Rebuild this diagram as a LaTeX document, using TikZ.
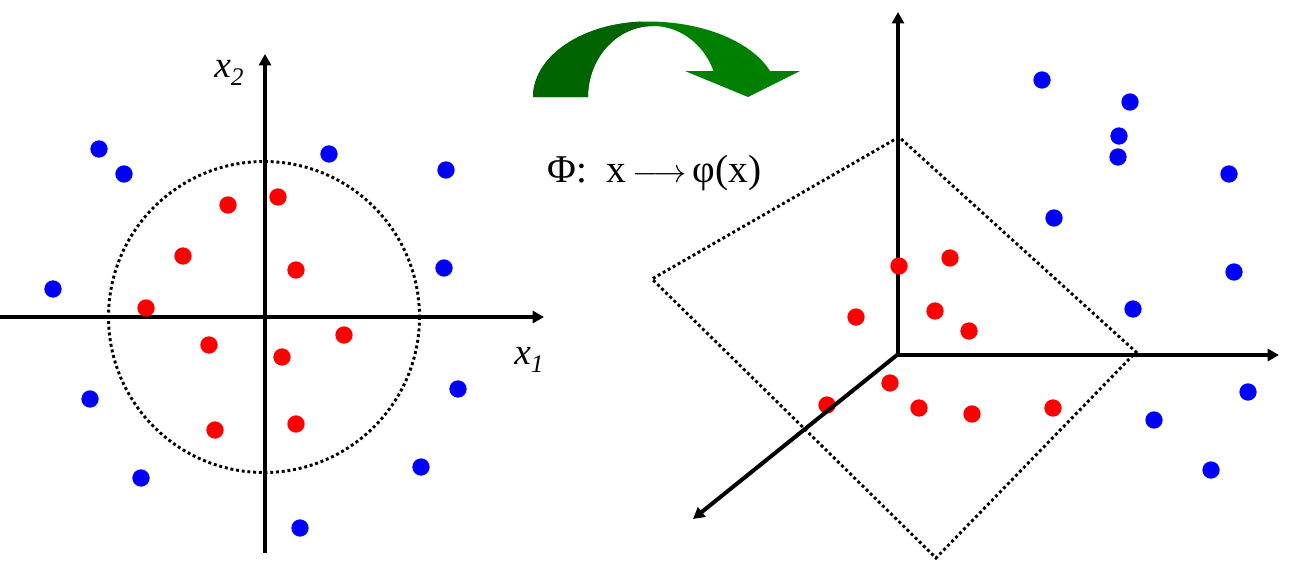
\documentclass[tikz,border=0pt]{standalone}
\usepackage{fontspec}
\setmainfont{Liberation Serif}
\usetikzlibrary{arrows.meta}
\definecolor{gdark}{RGB}{0,100,0}
\definecolor{glight}{RGB}{0,128,0}
\tikzset{
  pt/.style={circle,inner sep=0pt,minimum size=13pt},
  rdot/.style={pt,fill={rgb,255:red,255;green,0;blue,0}},
  bdot/.style={pt,fill={rgb,255:red,0;green,0;blue,255}},
  axisline/.style={line width=3pt,-{Triangle[length=8.5pt,width=9pt]}},
  dotline/.style={line width=2.2pt,dash pattern=on 2.2pt off 2.1pt},
  lbl/.style={inner sep=0pt,anchor=base west,font=\fontsize{28}{30}\selectfont}
}
\begin{document}
\begin{tikzpicture}[x=0.75pt,y=-0.75pt]
\useasboundingbox (0,0) rectangle (1291,561);
% ---------- left panel ----------
\coordinate (lw) at (0,317);
\coordinate (le) at (544,317);
\coordinate (ls) at (265,553);
\coordinate (ln) at (265,54);
\coordinate (lc) at (264,317);
\draw[dotline] (lc) circle[radius=155.5];
\draw[axisline] (lw) -- (le);
\draw[axisline] (ls) -- (ln);
\node[lbl] (x2) at (214,77) {\itshape x\raisebox{-8\dimexpr 0.75pt\relax}{\fontsize{19}{20}\selectfont\itshape 2}};
\node[lbl] (x1) at (514,364) {\itshape x\raisebox{-8\dimexpr 0.75pt\relax}{\fontsize{19}{20}\selectfont\itshape 1}};
% blue
\node[bdot] (lb1) at (99,149) {};
\node[bdot] (lb2) at (124,174) {};
\node[bdot] (lb3) at (329,154) {};
\node[bdot] (lb4) at (446,170) {};
\node[bdot] (lb5) at (53,289) {};
\node[bdot] (lb6) at (444,268) {};
\node[bdot] (lb7) at (90,399) {};
\node[bdot] (lb8) at (458,389) {};
\node[bdot] (lb9) at (141,478) {};
\node[bdot] (lb10) at (421,467) {};
\node[bdot] (lb11) at (300,528) {};
% red
\node[rdot] (lr1) at (228,205) {};
\node[rdot] (lr2) at (278,197) {};
\node[rdot] (lr3) at (183,256) {};
\node[rdot] (lr4) at (296,270) {};
\node[rdot] (lr5) at (146,308) {};
\node[rdot] (lr6) at (209,345) {};
\node[rdot] (lr7) at (344,335) {};
\node[rdot] (lr8) at (282,357) {};
\node[rdot] (lr9) at (215,430) {};
\node[rdot] (lr10) at (296,424) {};
% ---------- green arrow ----------
\fill[glight] (533,97)
  -- plot[domain=180:90,samples=40] ({648+115*cos(\x)},{97-75.5*sin(\x)})
  -- plot[domain=90:20.1,samples=40] ({648+130*cos(\x)},{97-75.5*sin(\x)})
  -- (800,71) -- (748,97) -- (685,71) -- (714,71)
  -- plot[domain=21.5:180,samples=60] ({653+65*cos(\x)},{97-71*sin(\x)})
  -- cycle;
\fill[gdark] (533,97)
  -- plot[domain=180:94,samples=40] ({648+115*cos(\x)},{97-75.5*sin(\x)})
  -- (653,26)
  -- plot[domain=90:180,samples=40] ({653+65*cos(\x)},{97-71*sin(\x)})
  -- cycle;
\node[lbl,font=\fontsize{29.5}{31}\selectfont] (phi) at (547,182) {Φ:\ \ x\,$\longrightarrow$\,φ(x)};
% ---------- right panel ----------
\coordinate (ro) at (897,355);
\coordinate (rtop) at (898,12);
\coordinate (rvb) at (898,355);
\coordinate (rright) at (1279,355);
\coordinate (rdiag) at (693,519);
\coordinate (qt) at (899,137);
\coordinate (ql) at (652,279);
\coordinate (qb) at (936,558);
\coordinate (qr) at (1136,352);
\draw[dotline] (qt) -- (ql) -- (qb) -- (qr) -- cycle;
\draw[axisline] (rvb) -- (rtop);
\draw[axisline] (ro) -- (rright);
% blue
\node[bdot] (rb1) at (1042,80) {};
\node[bdot] (rb2) at (1130,102) {};
\node[bdot] (rb3) at (1119,136) {};
\node[bdot] (rb4) at (1118,157) {};
\node[bdot] (rb5) at (1229,174) {};
\node[bdot] (rb6) at (1054,218) {};
\node[bdot] (rb7) at (1234,272) {};
\node[bdot] (rb8) at (1133,309) {};
\node[bdot] (rb9) at (1248,392) {};
\node[bdot] (rb10) at (1154,420) {};
\node[bdot] (rb11) at (1211,470) {};
% red
\node[rdot] (rr1) at (899,266) {};
\node[rdot] (rr2) at (950,258) {};
\node[rdot] (rr3) at (856,317) {};
\node[rdot] (rr4) at (935,311) {};
\node[rdot] (rr5) at (969,331) {};
\node[rdot] (rr6) at (890,383) {};
\node[rdot] (rr7) at (827,405) {};
\node[rdot] (rr8) at (919,408) {};
\node[rdot] (rr9) at (972,414) {};
\node[rdot] (rr10) at (1053,408) {};
\draw[axisline] (ro) -- (rdiag);
\end{tikzpicture}
\end{document}
